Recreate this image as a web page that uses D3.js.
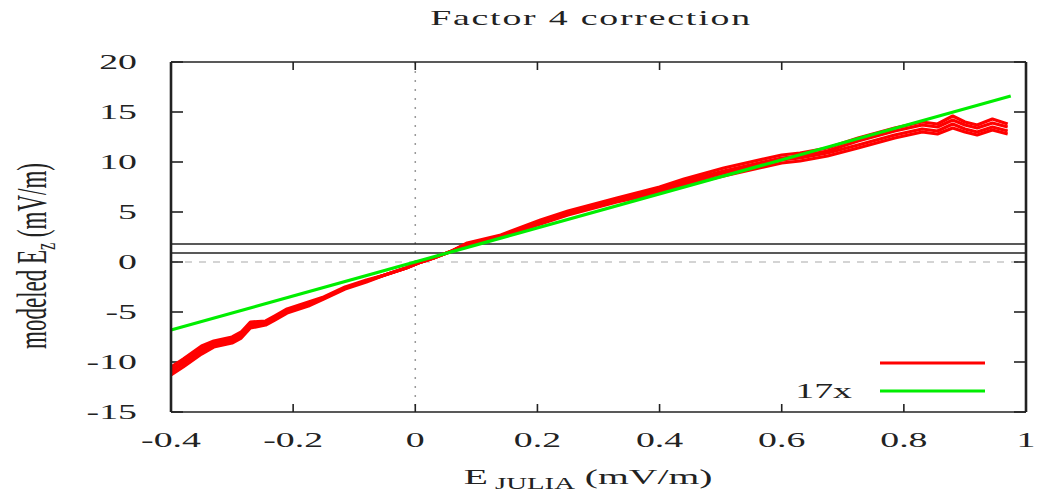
<!DOCTYPE html>
<html>
<head>
<meta charset="utf-8">
<script src="https://cdn.jsdelivr.net/npm/d3@7"></script>
<style>
  body { margin: 0; background: #fff; }
  svg { display: block; }
  text { font-family: "Liberation Serif", "DejaVu Serif", serif; fill: #222; }
</style>
</head>
<body>
<svg id="chart" width="1039" height="495"></svg>
<script>
const xTicks = [-0.4, -0.2, 0, 0.2, 0.4, 0.6, 0.8, 1];
const xTickLabels = ["-0.4", "-0.2", "0", "0.2", "0.4", "0.6", "0.8", "1"];
const yTicks = [-15, -10, -5, 0, 5, 10, 15, 20];
const yTickLabels = ["-15", "-10", "-5", "0", "5", "10", "15", "20"];

// red curve: four runs that overlap in the middle and fan out at the ends
const redX = [-0.40, -0.38, -0.35, -0.33, -0.30, -0.285, -0.27, -0.245, -0.23, -0.21,
              -0.175, -0.15, -0.115, -0.08, -0.05, -0.015, 0.005, 0.03, 0.06, 0.085,
              0.14, 0.205, 0.25, 0.33, 0.40, 0.44, 0.505, 0.60, 0.63, 0.675,
              0.725, 0.785, 0.83, 0.855, 0.88, 0.90, 0.92, 0.945, 0.97];
const redA = [-11.3, -10.5, -9.2, -8.5, -8.1, -7.6, -6.6, -6.3, -5.8, -5.1,
              -4.4, -3.7, -2.7, -2.0, -1.3, -0.6, -0.1, 0.4, 1.1, 1.9,
              2.7, 4.2, 5.1, 6.4, 7.5, 8.3, 9.4, 10.7, 10.9, 11.4,
              12.4, 13.4, 14.0, 13.8, 14.6, 14.0, 13.7, 14.3, 13.8];
const redB = [-11.0, -10.2, -8.9, -8.3, -7.9, -7.4, -6.4, -6.2, -5.7, -5.0,
              -4.3, -3.6, -2.6, -1.9, -1.3, -0.6, -0.1, 0.4, 1.1, 1.8,
              2.6, 4.1, 5.0, 6.3, 7.3, 8.1, 9.1, 10.4, 10.6, 11.1,
              12.1, 13.1, 13.7, 13.5, 14.2, 13.7, 13.4, 13.9, 13.5];
const redC = [-10.8, -10.0, -8.7, -8.1, -7.7, -7.2, -6.2, -6.0, -5.5, -4.8,
              -4.1, -3.6, -2.6, -1.9, -1.3, -0.6, -0.1, 0.4, 1.1, 1.8,
              2.6, 3.9, 4.8, 6.1, 7.1, 7.9, 8.9, 10.2, 10.4, 10.9,
              11.7, 12.7, 13.3, 13.1, 13.8, 13.3, 13.0, 13.5, 13.1];
const redD = [-10.5, -9.7, -8.4, -7.9, -7.5, -7.0, -6.0, -5.9, -5.4, -4.7,
              -4.0, -3.5, -2.5, -1.8, -1.3, -0.6, -0.1, 0.4, 1.1, 1.7,
              2.5, 3.8, 4.7, 6.0, 6.9, 7.7, 8.6, 9.9, 10.1, 10.6,
              11.4, 12.4, 13.0, 12.8, 13.4, 13.0, 12.7, 13.2, 12.8];

const greenX = [-0.4, 0.975];
const greenY = [-6.8, 16.6];

const refLevels = [1.8, 0.9];
const legendLabels = ["", "17x"];
const legendColors = ["#ff0000", "#00ee00"];

const SX = 1.8; // the picture is stretched sideways
const svg = d3.select("#chart");
const plotLeft = 171, plotRight = 1026, plotTop = 62, plotBottom = 412;

const x = d3.scaleLinear().domain([-0.4, 1]).range([plotLeft, plotRight]);
const y = d3.scaleLinear().domain([-15, 20]).range([plotBottom, plotTop]);

const stretched = (px, py, str, anchor, size) => svg.append("text")
    .attr("transform", `translate(${px},${py}) scale(${SX},1)`)
    .attr("text-anchor", anchor)
    .style("font-size", `${size}px`)
    .text(str);

// zero lines
svg.append("line")
    .attr("x1", x(0)).attr("x2", x(0)).attr("y1", plotTop).attr("y2", plotBottom)
    .attr("stroke", "#999").attr("stroke-width", 1.5).attr("stroke-dasharray", "2,7");
svg.append("line")
    .attr("x1", plotLeft).attr("x2", plotRight).attr("y1", y(0)).attr("y2", y(0))
    .attr("stroke", "#aaa").attr("stroke-width", 1.2).attr("stroke-dasharray", "7,7");

svg.selectAll("line.ref")
    .data(refLevels)
    .enter()
    .append("line")
    .attr("class", "ref")
    .attr("x1", plotLeft).attr("x2", plotRight)
    .attr("y1", d => y(d)).attr("y2", d => y(d))
    .attr("stroke", "#222").attr("stroke-width", 1.6);

// ticks on all four sides, pointing in
const tickG = svg.append("g").attr("stroke", "#222").attr("stroke-width", 1.6);
xTicks.forEach(t => {
    tickG.append("line").attr("x1", x(t)).attr("x2", x(t)).attr("y1", plotBottom).attr("y2", plotBottom - 8);
    tickG.append("line").attr("x1", x(t)).attr("x2", x(t)).attr("y1", plotTop).attr("y2", plotTop + 8);
});
yTicks.forEach(t => {
    tickG.append("line").attr("x1", plotLeft).attr("x2", plotLeft + 12).attr("y1", y(t)).attr("y2", y(t));
    tickG.append("line").attr("x1", plotRight).attr("x2", plotRight - 12).attr("y1", y(t)).attr("y2", y(t));
});

// data
const line = d3.line().x(d => x(d[0])).y(d => y(d[1]));
[redA, redB, redC, redD].forEach(run => {
    svg.append("path")
        .datum(redX.map((v, i) => [v, run[i]]))
        .attr("d", line)
        .attr("fill", "none")
        .attr("stroke", legendColors[0])
        .attr("stroke-width", 3.2)
        .attr("stroke-linejoin", "round");
});
svg.append("path")
    .datum(greenX.map((v, i) => [v, greenY[i]]))
    .attr("d", line)
    .attr("fill", "none")
    .attr("stroke", legendColors[1])
    .attr("stroke-width", 3.2);

// frame
svg.append("g").attr("stroke", "#222")
    .call(g => {
        g.append("line").attr("x1", plotLeft).attr("x2", plotRight).attr("y1", plotTop).attr("y2", plotTop).attr("stroke-width", 1.6);
        g.append("line").attr("x1", plotLeft).attr("x2", plotRight).attr("y1", plotBottom).attr("y2", plotBottom).attr("stroke-width", 1.6);
        g.append("line").attr("x1", plotLeft).attr("x2", plotLeft).attr("y1", plotTop).attr("y2", plotBottom).attr("stroke-width", 2.6);
        g.append("line").attr("x1", plotRight).attr("x2", plotRight).attr("y1", plotTop).attr("y2", plotBottom).attr("stroke-width", 2.6);
    });

// tick labels
xTicks.forEach((t, i) => stretched(x(t), 447, xTickLabels[i], "middle", 21));
yTicks.forEach((t, i) => stretched(137, y(t) + 7, yTickLabels[i], "end", 21));

// legend
legendLabels.forEach((lab, i) => {
    const ly = 363 + i * 28;
    svg.append("line")
        .attr("x1", 880).attr("x2", 985).attr("y1", ly).attr("y2", ly)
        .attr("stroke", legendColors[i]).attr("stroke-width", 3);
    if (lab) stretched(852, ly + 7, lab, "end", 21);
});

// titles
stretched(591, 25, "Factor 4 correction", "middle", 21).style("letter-spacing", "1px");

const xt = svg.append("text")
    .attr("transform", `translate(588,484) scale(${SX},1)`)
    .attr("text-anchor", "middle")
    .style("font-size", "22px");
xt.append("tspan").text("E");
xt.append("tspan").attr("dy", 5).style("font-size", "16px").text(" JULIA");
xt.append("tspan").attr("dy", -5).text(" (mV/m)");

const yt = svg.append("text")
    .attr("transform", `translate(46,256) scale(${SX},1) rotate(-90)`)
    .attr("text-anchor", "middle")
    .style("font-size", "23px");
yt.append("tspan").text("modeled E");
yt.append("tspan").attr("dy", 5).style("font-size", "16px").text("z");
yt.append("tspan").attr("dy", -5).text(" (mV/m)");
</script>
</body>
</html>
